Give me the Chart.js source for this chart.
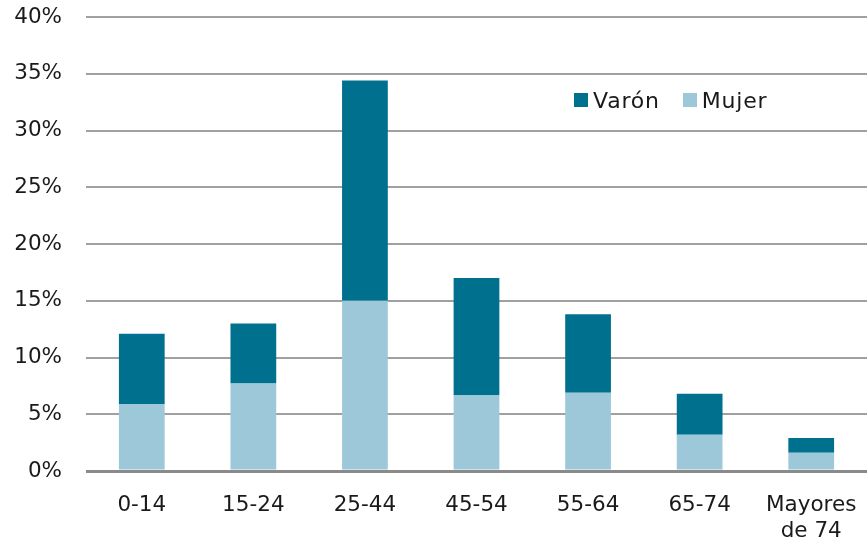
<!DOCTYPE html>
<html>
<head>
<meta charset="utf-8">
<script src="https://cdn.jsdelivr.net/npm/chart.js@4/dist/chart.umd.min.js"></script>
<style>
  html, body { margin: 0; padding: 0; background: #fff; overflow: hidden; }
  #wrap { position: relative; width: 867px; height: 549px; }
  #myChart { display: block; }
  #legend { position: absolute; top: 88px; left: 574px; font-family: "DejaVu Sans", Verdana, sans-serif; font-size: 22px; letter-spacing: 0.8px; color: #1a1a1a; white-space: nowrap; }
  #legend span.box { display: inline-block; width: 14px; height: 14px; margin-right: 5px; vertical-align: 1px; }
  #legend span.item { display: inline-block; }
  #legend span.item + span.item { margin-left: 23px; }
</style>
</head>
<body>
<div id="wrap">
  <canvas id="myChart" width="867" height="549"></canvas>
  <div id="legend"></div>
</div>
<script>
const categories = ['0-14', '15-24', '25-44', '45-54', '55-64', '65-74', ['Mayores', 'de 74']];
const mujer = [5.9, 7.7, 15.0, 6.7, 6.9, 3.2, 1.6];
const varon = [6.2, 5.3, 19.4, 10.3, 6.9, 3.6, 1.3];
const yTicks = [0, 5, 10, 15, 20, 25, 30, 35, 40];

const dark = 'rgb(0, 112, 143)'
const light = 'rgb(157, 200, 217)'
const font = { family: '"DejaVu Sans", Verdana, sans-serif', size: 21.5 }

const data = {
  labels: categories,
  datasets: [
    { label: 'Mujer', data: mujer, backgroundColor: light, barPercentage: 0.41, categoryPercentage: 1 },
    { label: 'Varón', data: varon, backgroundColor: dark, barPercentage: 0.41, categoryPercentage: 1 }
  ]
};

const config = {
  type: 'bar',
  data: data,
  options: {
    responsive: false,
    animation: false,
    layout: { padding: { top: 17, left: 0, right: 0, bottom: 0 } },
    plugins: { legend: { display: false }, tooltip: { enabled: false } },
    scales: {
      x: {
        stacked: true,
        // tick marks kept (invisible) only to push the labels down
        grid: { display: true, drawOnChartArea: false, drawTicks: true, tickLength: 22, tickColor: 'transparent', color: 'transparent' },
        border: { display: false },
        ticks: { color: '#1a1a1a', font: font, padding: 0, maxRotation: 0, autoSkip: false },
        afterFit: (s) => { s.height = 78 }
      },
      y: {
        stacked: true,
        min: 0,
        max: 40,
        afterBuildTicks: (s) => { s.ticks = yTicks.map(v => ({ value: v })) },
        border: { display: false },
        grid: {
          drawTicks: true,
          tickLength: 24,
          tickColor: 'transparent',
          color: (c) => c.tick && c.tick.value === 0 ? '#8a8a8a' : '#a0a0a0',
          lineWidth: (c) => c.tick && c.tick.value === 0 ? 3 : 2
        },
        ticks: { color: '#1a1a1a', font: font, padding: 0, callback: (v) => v + '%' },
        afterFit: (s) => { s.width = 86 }
      }
    }
  }
};

const myChart = new Chart(document.getElementById('myChart'), config);

const legend = document.getElementById('legend')
legend.innerHTML = [['Varón', dark], ['Mujer', light]].map(([t, c]) =>
  `<span class="item"><span class="box" style="background:${c}"></span>${t}</span>`).join('')
</script>
</body>
</html>
